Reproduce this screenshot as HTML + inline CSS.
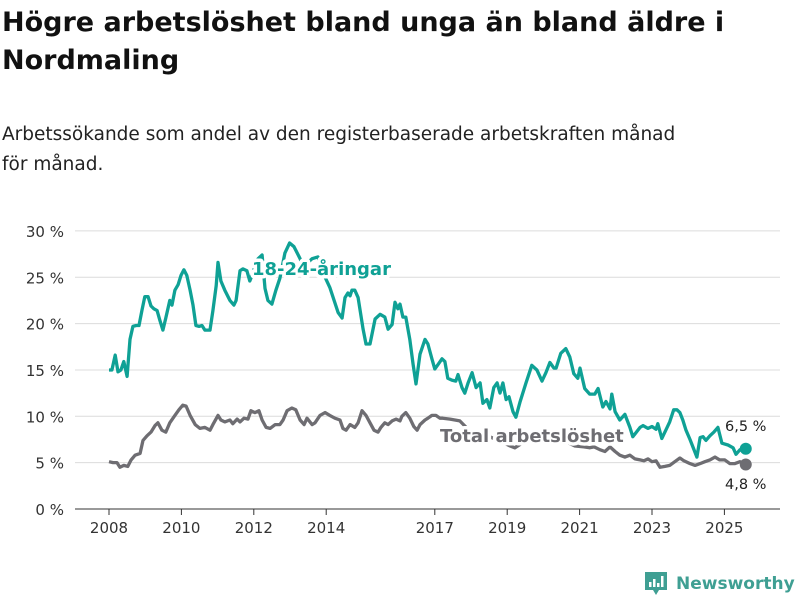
<!DOCTYPE html>
<html><head><meta charset="utf-8"><style>
body{margin:0;background:#fff;font-family:"DejaVu Sans","Liberation Sans",sans-serif;}
#wrap{position:relative;width:800px;height:600px;overflow:hidden;}
h1{position:absolute;left:2px;top:4px;margin:0;font-size:27px;line-height:38px;font-weight:bold;color:#111;width:790px;}
p.sub{position:absolute;left:2px;top:120px;margin:0;font-size:18.5px;line-height:30px;color:#222;width:795px;}
</style></head><body>
<div id="wrap">
<h1>Högre arbetslöshet bland unga än bland äldre i Nordmaling</h1>
<p class="sub">Arbetssökande som andel av den registerbaserade arbetskraften månad<br>för månad.</p>
<svg id="chart" width="800" height="600" style="position:absolute;left:0;top:0"></svg>
</div>
<script>
const youthDates=[2008.00,2008.08,2008.17,2008.25,2008.33,2008.41,2008.50,2008.58,2008.66,2008.75,2008.83,2008.91,2008.99,2009.08,2009.16,2009.24,2009.33,2009.41,2009.49,2009.57,2009.68,2009.74,2009.82,2009.91,2009.99,2010.07,2010.15,2010.24,2010.32,2010.40,2010.49,2010.57,2010.65,2010.79,2010.87,2010.96,2011.01,2011.09,2011.20,2011.34,2011.45,2011.51,2011.62,2011.70,2011.81,2011.89,2011.95,2012.03,2012.12,2012.23,2012.31,2012.39,2012.50,2012.61,2012.72,2012.86,2012.99,2013.11,2013.28,2013.39,2013.47,2013.61,2013.77,2013.97,2014.10,2014.33,2014.44,2014.52,2014.60,2014.66,2014.71,2014.79,2014.88,2015.02,2015.10,2015.21,2015.35,2015.49,2015.62,2015.71,2015.82,2015.90,2015.98,2016.04,2016.12,2016.20,2016.31,2016.40,2016.48,2016.59,2016.73,2016.81,2016.92,2017.00,2017.09,2017.20,2017.28,2017.36,2017.47,2017.58,2017.64,2017.75,2017.83,2017.92,2018.03,2018.14,2018.25,2018.33,2018.44,2018.52,2018.63,2018.72,2018.80,2018.88,2018.97,2019.05,2019.16,2019.24,2019.35,2019.52,2019.68,2019.82,2019.96,2020.07,2020.18,2020.29,2020.35,2020.48,2020.62,2020.73,2020.84,2020.95,2021.01,2021.14,2021.28,2021.42,2021.51,2021.64,2021.73,2021.84,2021.89,2021.98,2022.11,2022.25,2022.39,2022.47,2022.67,2022.75,2022.89,2023.00,2023.11,2023.16,2023.27,2023.38,2023.49,2023.60,2023.69,2023.77,2023.85,2023.94,2024.05,2024.24,2024.33,2024.41,2024.49,2024.60,2024.71,2024.82,2024.93,2025.10,2025.24,2025.32,2025.43,2025.59];
const youthValues=[15.0,15.0,16.6,14.8,15.0,15.9,14.3,18.3,19.7,19.8,19.8,21.4,22.9,22.9,21.9,21.6,21.4,20.3,19.3,20.6,22.5,22.0,23.6,24.2,25.2,25.8,25.2,23.6,22.0,19.8,19.7,19.8,19.3,19.3,21.4,24.1,26.6,24.6,23.6,22.5,22.0,22.5,25.7,25.9,25.7,24.6,25.2,26.2,27.0,27.4,23.8,22.5,22.1,23.6,24.9,27.6,28.7,28.3,27.0,25.8,26.5,27.0,27.2,25.0,23.9,21.2,20.6,22.8,23.3,23.0,23.6,23.6,22.8,19.4,17.8,17.8,20.5,21.0,20.7,19.4,19.9,22.3,21.6,22.1,20.7,20.7,18.3,15.6,13.5,16.7,18.3,17.8,16.2,15.1,15.6,16.2,15.9,14.1,13.9,13.8,14.5,13.1,12.5,13.6,14.7,13.1,13.6,11.4,11.8,10.9,13.1,13.6,12.5,13.6,11.8,12.1,10.5,9.9,11.5,13.6,15.5,15.0,13.8,14.7,15.8,15.2,15.2,16.8,17.3,16.4,14.6,14.1,15.2,13.0,12.4,12.4,13.0,11.0,11.6,10.8,12.4,10.5,9.6,10.2,8.8,7.8,8.8,9.0,8.7,8.9,8.6,9.2,7.6,8.5,9.4,10.7,10.7,10.4,9.6,8.5,7.5,5.6,7.7,7.8,7.4,7.9,8.3,8.8,7.1,6.9,6.6,5.9,6.4,6.5];
const totalDates=[2008.00,2008.11,2008.22,2008.30,2008.41,2008.52,2008.61,2008.72,2008.86,2008.94,2009.05,2009.16,2009.27,2009.35,2009.46,2009.57,2009.68,2009.82,2009.93,2010.04,2010.13,2010.24,2010.38,2010.51,2010.65,2010.79,2010.87,2011.01,2011.09,2011.20,2011.34,2011.42,2011.54,2011.62,2011.73,2011.84,2011.92,2012.03,2012.14,2012.23,2012.34,2012.45,2012.59,2012.72,2012.81,2012.92,2013.05,2013.16,2013.28,2013.39,2013.47,2013.61,2013.69,2013.83,2013.97,2014.10,2014.24,2014.38,2014.46,2014.55,2014.66,2014.79,2014.88,2014.99,2015.10,2015.21,2015.32,2015.43,2015.51,2015.62,2015.71,2015.82,2015.93,2016.04,2016.09,2016.20,2016.31,2016.42,2016.51,2016.59,2016.73,2016.81,2016.92,2017.03,2017.14,2017.22,2017.42,2017.69,2017.97,2018.25,2018.52,2018.80,2019.08,2019.21,2019.49,2019.77,2020.04,2020.32,2020.60,2020.87,2021.12,2021.28,2021.40,2021.56,2021.70,2021.84,2021.98,2022.11,2022.25,2022.39,2022.53,2022.67,2022.78,2022.89,2023.00,2023.11,2023.22,2023.36,2023.49,2023.63,2023.77,2023.88,2024.05,2024.19,2024.33,2024.46,2024.60,2024.74,2024.87,2025.01,2025.15,2025.29,2025.43,2025.59];
const totalValues=[5.1,5.0,5.0,4.5,4.7,4.6,5.3,5.8,6.0,7.4,7.9,8.3,9.0,9.3,8.5,8.3,9.3,10.1,10.7,11.2,11.1,10.1,9.1,8.7,8.8,8.5,9.1,10.1,9.6,9.4,9.6,9.2,9.7,9.4,9.8,9.7,10.6,10.4,10.6,9.6,8.8,8.7,9.1,9.1,9.6,10.6,10.9,10.7,9.6,9.1,9.8,9.1,9.3,10.1,10.4,10.1,9.8,9.6,8.7,8.5,9.1,8.8,9.3,10.6,10.1,9.3,8.5,8.3,8.8,9.3,9.1,9.5,9.7,9.5,10.0,10.4,9.8,8.9,8.5,9.1,9.6,9.8,10.1,10.1,9.8,9.8,9.7,9.5,8.4,8.1,7.8,7.3,6.8,6.6,7.3,7.8,8.2,7.8,7.3,6.8,6.7,6.6,6.7,6.4,6.2,6.7,6.2,5.8,5.6,5.8,5.4,5.3,5.2,5.4,5.1,5.2,4.5,4.6,4.7,5.1,5.5,5.2,4.9,4.7,4.9,5.1,5.3,5.6,5.3,5.3,4.9,4.9,5.1,4.8];
const yTicks=[0,5,10,15,20,25,30];
const xTicks=[2008,2010,2012,2014,2017,2019,2021,2023,2025];

const NS="http://www.w3.org/2000/svg";
const svg=document.getElementById('chart');
const X=v=>109+(v-2008)*36.2;
const Y=v=>509-v*9.27;
function mk(tag,attrs,parent){const e=document.createElementNS(NS,tag);for(const k in attrs)e.setAttribute(k,attrs[k]);(parent||svg).appendChild(e);return e;}
yTicks.forEach(t=>{
  if(t>0){const g=mk('line',{x1:75,x2:780,y1:Y(t),y2:Y(t),stroke:'#dcdcdc','stroke-width':1});
  
  }
  const l=mk('text',{x:64,y:Y(t)+6,'text-anchor':'end','font-size':15,fill:'#333','font-family':'"DejaVu Sans","Liberation Sans",sans-serif'});
  l.textContent=t+' %';
  
  
});
const ax=mk('line',{x1:75,x2:780,y1:509,y2:509,stroke:'#333','stroke-width':1});


xTicks.forEach(t=>{
  const tk=mk('line',{x1:X(t),x2:X(t),y1:509,y2:515,stroke:'#333'});
  
  
  const l=mk('text',{x:X(t),y:533,'text-anchor':'middle','font-size':15,fill:'#333','font-family':'"DejaVu Sans","Liberation Sans",sans-serif'});
  l.textContent=t;
  
  
});
function line(d,v,col,name){
  const p=mk('path',{d:d.map((x,i)=>(i?'L':'M')+X(x).toFixed(1)+','+Y(v[i]).toFixed(1)).join(''),fill:'none',stroke:col,'stroke-width':3.3,'stroke-linejoin':'round'});
  
  
  const c=mk('circle',{cx:X(d[d.length-1]),cy:Y(v[v.length-1]),r:6,fill:col});
  
  
}
line(totalDates,totalValues,'#6e6d72','total-line');
line(youthDates,youthValues,'#0fa195','youth-line');
function label(x,y,txt,col,name,size,bold,halo){
  const t=mk('text',{x:x,y:y,'font-size':size,fill:col,'font-weight':bold?'bold':'normal','font-family':'"DejaVu Sans","Liberation Sans",sans-serif'});
  if(halo){t.setAttribute('stroke','#fff');t.setAttribute('stroke-width',7);t.setAttribute('paint-order','stroke');t.setAttribute('stroke-linejoin','round');}
  t.textContent=txt;
  
  
}
label(252,275,'18-24-åringar','#0fa195','youth-series-label',18,true,true);
label(440,442,'Total arbetslöshet','#6e6d72','total-series-label',18,true,true);
label(725,431,'6,5 %','#222','youth-end-value',14.5,false,false);
label(725,489,'4,8 %','#222','total-end-value',14.5,false,false);
const lg=mk('g',{});


mk('path',{d:'M645,572 h22 v18 h-8 l-3,5 l-3,-5 h-8 z',fill:'#3f9f93'},lg);
mk('rect',{x:649,y:582,width:2.5,height:5,fill:'#fff'},lg);
mk('rect',{x:653,y:579,width:2.5,height:8,fill:'#fff'},lg);
mk('rect',{x:657,y:583,width:2.5,height:4,fill:'#fff'},lg);
mk('rect',{x:661,y:576,width:2.5,height:11,fill:'#fff'},lg);
const lt=mk('text',{x:676,y:589,'font-size':17,fill:'#3f9f93','font-weight':'bold','font-family':'"DejaVu Sans","Liberation Sans",sans-serif'},lg);
lt.textContent='Newsworthy';
</script>
</body></html>
